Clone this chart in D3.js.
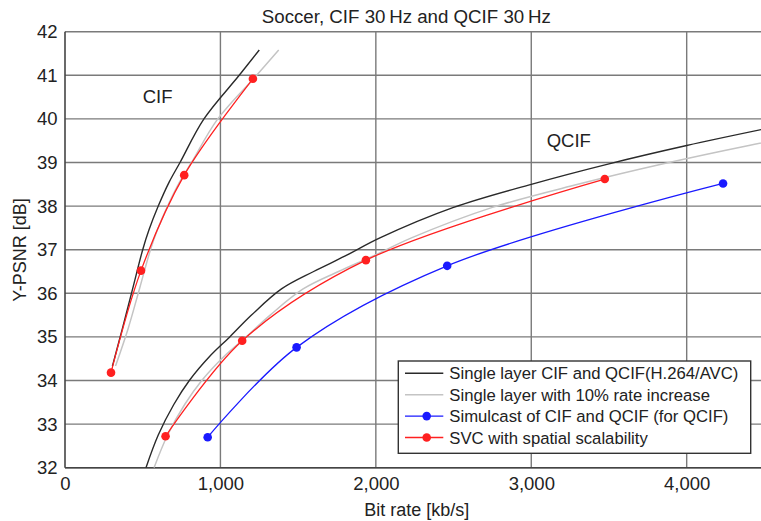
<!DOCTYPE html>
<html><head><meta charset="utf-8">
<script src="https://cdn.jsdelivr.net/npm/d3@7"></script>
<style>
html,body{margin:0;padding:0;background:#fff;}
svg{display:block;font-family:"Liberation Sans",Arial,sans-serif;}
</style></head>
<body>
<svg id="chart" width="761" height="521"></svg>
<script>
// ---- data ----
const xTicks = [0, 1000, 2000, 3000, 4000];
const yTicks = [32, 33, 34, 35, 36, 37, 38, 39, 40, 41, 42];

// Single layer (H.264/AVC) – CIF
const singleCIF_x = [305, 370, 435, 500, 540, 600, 670, 740, 894, 1121, 1250];
const singleCIF_y = [34.33, 35.2, 36.1, 37.0, 37.45, 38.0, 38.55, 39.0, 40.0, 41.0, 41.58];
// Single layer – QCIF
const singleQCIF_x = [521, 600, 700, 800, 930, 1060, 1200, 1393, 1600, 1800, 2026, 2500, 3000, 3500, 4000, 4500];
const singleQCIF_y = [32.0, 32.75, 33.45, 34.0, 34.55, 35.0, 35.5, 36.1, 36.5, 36.85, 37.27, 37.97, 38.5, 38.97, 39.39, 39.77];

// Single layer with 10% rate increase – CIF
const plus10CIF_x = [325, 407, 479, 550, 594, 660, 737, 814, 983, 1233, 1375];
const plus10CIF_y = [34.33, 35.2, 36.1, 37.0, 37.45, 38.0, 38.55, 39.0, 40.0, 41.0, 41.58];
// Single layer with 10% rate increase – QCIF
const plus10QCIF_x = [573, 660, 770, 880, 1023, 1166, 1320, 1532, 1760, 1980, 2229, 2750, 3300, 3850, 4400, 4950];
const plus10QCIF_y = [32.0, 32.75, 33.45, 34.0, 34.55, 35.0, 35.5, 36.1, 36.5, 36.85, 37.27, 37.97, 38.5, 38.97, 39.39, 39.77];

// Simulcast of CIF and QCIF (for QCIF)
const simulcast_x = [918, 1490, 2459, 4234];
const simulcast_y = [32.70, 34.76, 36.63, 38.52];

// SVC with spatial scalability – CIF and QCIF
const svcCIF_x = [296, 489, 767, 1209];
const svcCIF_y = [34.18, 36.52, 38.71, 40.92];
const svcQCIF_x = [647, 1140, 1936, 3473];
const svcQCIF_y = [32.72, 34.91, 36.76, 38.62];

const legendLabels = [
  "Single layer CIF and QCIF(H.264/AVC)",
  "Single layer with 10% rate increase",
  "Simulcast of CIF and QCIF (for QCIF)",
  "SVC with spatial scalability"
];

// ---- drawing ----
const zip = (xs, ys) => xs.map((x, i) => [x, ys[i]]);
const svg = d3.select("#chart");
const x = d3.scaleLinear().domain([0, 4500]).range([65, 764.4]);
const y = d3.scaleLinear().domain([32, 42]).range([467.7, 31.7]);
const txt = "#222";

svg.append("defs").append("clipPath").attr("id", "plotclip")
  .append("rect").attr("x", x(0)).attr("y", y(42)).attr("width", x(4500) - x(0)).attr("height", y(32) - y(42));

// grid
const grid = svg.append("g");
grid.selectAll("line.h").data(yTicks).join("line")
  .attr("x1", x(0)).attr("x2", x(4500)).attr("y1", d => y(d)).attr("y2", d => y(d))
  .attr("stroke", "#7a7a7a").attr("stroke-width", 1.4);
grid.selectAll("line.v").data(xTicks.filter(d => d > 0)).join("line")
  .attr("x1", d => x(d)).attr("x2", d => x(d)).attr("y1", y(42)).attr("y2", y(32))
  .attr("stroke", "#7a7a7a").attr("stroke-width", 1.4);
// frame
svg.append("line").attr("x1", x(0)).attr("x2", x(0)).attr("y1", y(42)).attr("y2", y(32))
  .attr("stroke", "#444").attr("stroke-width", 1.6);
svg.append("line").attr("x1", x(0)).attr("x2", x(4500)).attr("y1", y(32)).attr("y2", y(32))
  .attr("stroke", "#444").attr("stroke-width", 1.6);

// axes (labels only)
const xAxis = d3.axisBottom(x).tickValues(xTicks).tickSize(0).tickPadding(0)
  .tickFormat(d3.format(","));
const gx = svg.append("g").attr("transform", `translate(0,${y(32)})`).call(xAxis);
gx.select(".domain").remove();
gx.selectAll("text").attr("font-size", "18.5px").attr("fill", txt)
  .attr("dy", null).attr("y", 22.3).attr("font-family", "Liberation Sans, Arial, sans-serif");

const yAxis = d3.axisLeft(y).tickValues(yTicks).tickSize(0).tickPadding(0);
const gy = svg.append("g").attr("transform", `translate(57.5,0)`).call(yAxis);
gy.select(".domain").remove();
gy.selectAll("text").attr("font-size", "18.5px").attr("fill", txt)
  .attr("dy", null).attr("x", 0).attr("y", 6).attr("font-family", "Liberation Sans, Arial, sans-serif");

// series
const line = d3.line().x(d => x(d[0])).y(d => y(d[1])).curve(d3.curveCatmullRom.alpha(0.5));
const plot = svg.append("g").attr("clip-path", "url(#plotclip)");
const series = [
  {d: zip(plus10CIF_x, plus10CIF_y), c: "#c4c4c4", w: 1.5},
  {d: zip(plus10QCIF_x, plus10QCIF_y), c: "#c4c4c4", w: 1.5},
  {d: zip(singleCIF_x, singleCIF_y), c: "#2a2a2a", w: 1.4},
  {d: zip(singleQCIF_x, singleQCIF_y), c: "#2a2a2a", w: 1.4},
  {d: zip(simulcast_x, simulcast_y), c: "#1a1aff", w: 1.3, m: true},
  {d: zip(svcCIF_x, svcCIF_y), c: "#ff2020", w: 1.3, m: true},
  {d: zip(svcQCIF_x, svcQCIF_y), c: "#ff2020", w: 1.3, m: true}
];
series.forEach(s => {
  plot.append("path").datum(s.d).attr("d", line).attr("fill", "none")
    .attr("stroke", s.c).attr("stroke-width", s.w);
});
series.filter(s => s.m).forEach(s => {
  svg.append("g").selectAll("circle").data(s.d).join("circle")
    .attr("cx", d => x(d[0])).attr("cy", d => y(d[1])).attr("r", 4.3).attr("fill", s.c);
});

// annotations
svg.append("text").attr("x", 142.7).attr("y", 103.3).attr("font-size", "18.5px").attr("fill", txt).text("CIF");
svg.append("text").attr("x", 546.7).attr("y", 147.3).attr("font-size", "18.5px").attr("fill", txt).text("QCIF");

// title and axis titles
svg.append("text").attr("x", 406.3).attr("y", 22.7).attr("text-anchor", "middle")
  .attr("font-size", "18.7px").attr("fill", txt).text("Soccer, CIF 30\u2009Hz and QCIF 30\u2009Hz");
svg.append("text").attr("x", 416.8).attr("y", 516).attr("text-anchor", "middle")
  .attr("font-size", "18px").attr("fill", txt).text("Bit rate [kb/s]");
svg.append("text").attr("transform", "translate(26,250) rotate(-90)").attr("text-anchor", "middle")
  .attr("font-size", "18px").attr("fill", txt).text("Y-PSNR [dB]");

// legend
const lg = svg.append("g");
lg.append("rect").attr("x", 398.3).attr("y", 361).attr("width", 352.4).attr("height", 92.3)
  .attr("fill", "#fff").attr("stroke", "#333").attr("stroke-width", 1.4);
const legendStyle = [
  {c: "#2a2a2a", m: false},
  {c: "#c4c4c4", m: false},
  {c: "#1a1aff", m: true},
  {c: "#ff2020", m: true}
];
const rowY = d3.scalePoint().domain(d3.range(4)).range([373.3, 437.5]);
legendLabels.forEach((lab, i) => {
  const cy = rowY(i);
  lg.append("line").attr("x1", 405).attr("x2", 443.3).attr("y1", cy).attr("y2", cy)
    .attr("stroke", legendStyle[i].c).attr("stroke-width", 1.4);
  if (legendStyle[i].m) lg.append("circle").attr("cx", 426.7).attr("cy", cy).attr("r", 4.3).attr("fill", legendStyle[i].c);
  lg.append("text").attr("x", 449.3).attr("y", cy + 6).attr("font-size", "16.7px").attr("fill", txt).text(lab);
});
</script>
</body></html>
